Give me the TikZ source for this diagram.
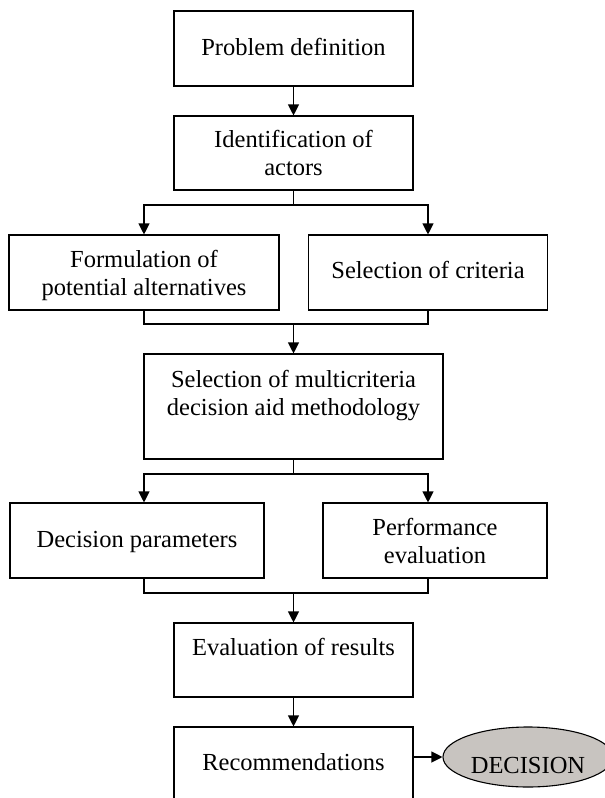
\documentclass[tikz,border=0pt]{standalone}
\usepackage{fontspec}
\setmainfont{Liberation Serif}
\usetikzlibrary{arrows.meta,shapes.geometric}
\definecolor{decgray}{RGB}{200,196,192}
\tikzset{
    every node/.style={font=\fontsize{24.5}{28}\selectfont, inner sep=0pt,
    	align=center}
}
\tikzset{
    box/.style={rectangle, draw, line width=1.1pt}
}
\tikzset{
	every path/.append style={line width=1.1pt},
	->/.style={-{Triangle[length=11pt,width=11pt]}}
}

\begin{document}
\begin{tikzpicture}[x=1pt, y=-1pt]
	\useasboundingbox (0, 0) rectangle (605, 798);
	\node (1) [box, minimum width=239pt, text height=44pt, text depth=31pt] at (293.5, 48.5) {Problem definition};
	\node (2) [box, minimum width=239pt, text height=59pt, text depth=15pt] at (293.5, 153) {Identification of\\actors};
	\node (3) [box, minimum width=270pt, text height=60pt, text depth=15pt] at (144, 272.5) {Formulation of\\potential alternatives};
	\node (4) [box, minimum width=239pt, text height=43pt, text depth=32pt] at (428, 272.5) {Selection of criteria};
	\node (5) [box, minimum width=299pt, text height=61pt, text depth=44pt] at (293.5, 406.5) {Selection of multicriteria\\decision aid methodology};
	\node (6) [box, minimum width=254pt, text height=44pt, text depth=31pt] at (137, 540.5) {Decision parameters};
	\node (7) [box, minimum width=224pt, text height=60pt, text depth=15pt] at (435, 540.5) {Performance\\evaluation};
	\node (8) [box, minimum width=239pt, text height=32pt, text depth=42pt] at (293.5, 660) {Evaluation of results};
	\node (9) [box, minimum width=239pt, text height=43pt, text depth=32pt] at (293.5, 764.5) {Recommendations};
	\node (10) [ellipse, draw, fill=decgray, minimum width=170pt, minimum height=60pt,
		text height=36pt, text depth=4pt] at (528, 757) {DECISION};
	
	\coordinate (b1) at (293.5, 205); \coordinate (m1) at (293.5, 324);
	\coordinate (b2) at (293.5, 474); \coordinate (m2) at (293.5, 593);
	
	\draw (1) edge [->] (2);
	\draw (2) -- (b1); \draw [->] (b1) -| (3); \draw [->] (b1) -| (4);
	\draw (3) |- (m1) -| (4); \draw (m1) edge [->] (5);
	\draw (5) -- (b2); \draw [->] (b2) -| (6.north -| 3); \draw [->] (b2) -| (7.north -| 4);
	\draw (6.south -| 3) |- (m2) -| (7.south -| 4); \draw (m2) edge [->] (8);
	\draw (8) edge [->] (9);
	\draw (9.east |- 10) edge [->] (10);
\end{tikzpicture}
\end{document}
